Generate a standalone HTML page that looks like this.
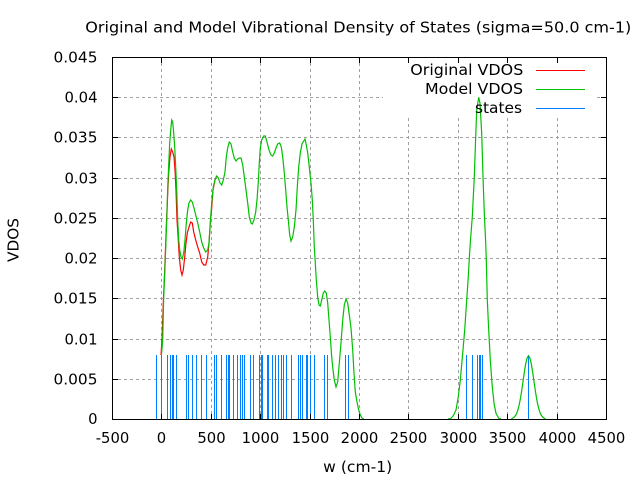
<!DOCTYPE html>
<html><head><meta charset="utf-8"><style>
html,body{margin:0;padding:0;background:#fff;}
svg{display:block;}
text{font-family:"DejaVu Sans","Liberation Sans",sans-serif;font-size:14.8px;fill:#000;}
</style></head><body>
<svg width="640" height="480" viewBox="0 0 640 480" xmlns="http://www.w3.org/2000/svg">
<rect x="0" y="0" width="640" height="480" fill="#fff"/>
<!-- grid -->
<g stroke="#a0a0a0" stroke-width="1" stroke-dasharray="3,3" fill="none">
<line x1="112" y1="97.5" x2="383" y2="97.5"/>
<line x1="597" y1="97.5" x2="606" y2="97.5"/>
<line x1="112" y1="137.5" x2="606" y2="137.5"/>
<line x1="112" y1="178.5" x2="606" y2="178.5"/>
<line x1="112" y1="218.5" x2="606" y2="218.5"/>
<line x1="112" y1="258.5" x2="606" y2="258.5"/>
<line x1="112" y1="298.5" x2="606" y2="298.5"/>
<line x1="112" y1="339.5" x2="606" y2="339.5"/>
<line x1="112" y1="379.5" x2="606" y2="379.5"/>
<line x1="161.5" y1="57" x2="161.5" y2="419"/>
<line x1="211.5" y1="57" x2="211.5" y2="419"/>
<line x1="260.5" y1="57" x2="260.5" y2="419"/>
<line x1="310.5" y1="57" x2="310.5" y2="419"/>
<line x1="359.5" y1="57" x2="359.5" y2="419"/>
<line x1="408.5" y1="118" x2="408.5" y2="419"/>
<line x1="458.5" y1="118" x2="458.5" y2="419"/>
<line x1="507.5" y1="118" x2="507.5" y2="419"/>
<line x1="557.5" y1="118" x2="557.5" y2="419"/>
</g>
<!-- states -->
<g fill="#0080ff">
<rect x="156" y="355" width="1" height="64"/><rect x="161" y="355" width="1" height="64"/><rect x="167" y="355" width="1" height="64"/><rect x="170" y="355" width="1" height="64"/><rect x="172" y="355" width="1" height="64"/><rect x="173" y="355" width="1" height="64"/><rect x="176" y="355" width="1" height="64"/><rect x="186" y="355" width="1" height="64"/><rect x="188" y="355" width="1" height="64"/><rect x="192" y="355" width="1" height="64"/><rect x="196" y="355" width="1" height="64"/><rect x="201" y="355" width="1" height="64"/><rect x="206" y="355" width="1" height="64"/><rect x="214" y="355" width="1" height="64"/><rect x="216" y="355" width="1" height="64"/><rect x="221" y="355" width="1" height="64"/><rect x="226" y="355" width="1" height="64"/><rect x="228" y="355" width="1" height="64"/><rect x="229" y="355" width="1" height="64"/><rect x="233" y="355" width="1" height="64"/><rect x="237" y="355" width="1" height="64"/><rect x="240" y="355" width="1" height="64"/><rect x="242" y="355" width="1" height="64"/><rect x="244" y="355" width="1" height="64"/><rect x="250" y="355" width="1" height="64"/><rect x="253" y="355" width="1" height="64"/><rect x="259" y="355" width="1" height="64"/><rect x="261" y="355" width="1" height="64"/><rect x="262" y="355" width="1" height="64"/><rect x="267" y="355" width="1" height="64"/><rect x="268" y="355" width="1" height="64"/><rect x="272" y="355" width="1" height="64"/><rect x="275" y="355" width="1" height="64"/><rect x="278" y="355" width="1" height="64"/><rect x="281" y="355" width="1" height="64"/><rect x="283" y="355" width="1" height="64"/><rect x="286" y="355" width="1" height="64"/><rect x="291" y="355" width="1" height="64"/><rect x="298" y="355" width="1" height="64"/><rect x="300" y="355" width="1" height="64"/><rect x="302" y="355" width="1" height="64"/><rect x="306" y="355" width="1" height="64"/><rect x="307" y="355" width="1" height="64"/><rect x="310" y="355" width="1" height="64"/><rect x="314" y="355" width="1" height="64"/><rect x="324" y="355" width="1" height="64"/><rect x="327" y="355" width="1" height="64"/><rect x="345" y="355" width="1" height="64"/><rect x="348" y="355" width="1" height="64"/>
<rect x="466" y="355" width="1" height="64"/><rect x="472" y="355" width="1" height="64"/><rect x="477" y="355" width="1" height="64"/><rect x="479" y="355" width="1" height="64"/><rect x="480" y="355" width="1" height="64"/><rect x="482" y="355" width="1" height="64"/><rect x="528" y="355" width="1" height="64"/>
</g>
<!-- legend box background -->
<rect x="383.5" y="58" width="213.5" height="60" fill="#fff"/>
<!-- red curve -->
<polyline fill="none" stroke="#ff0000" stroke-width="1.2" points="161,355 162,340 163.3,303 164.7,270 165.7,243 166.7,217 167.7,193 168.7,173 170,157 171.3,149 172.7,152 174,157 175,170 176,190 177,220 178.3,240 179.3,257 180.7,270 182,275 183.3,270 184.7,257 186,243 187.3,233 189,227 190.7,222 192.3,223 193.7,232 195.7,240 197.7,247 199.7,253 201.7,262 203.7,265 205.7,265 207.7,257 209,243 210.3,223 211.7,208 213,190 215,180 216.7,176"/>
<!-- green curves -->
<g fill="none" stroke="#00c000" stroke-width="1.2">
<polyline points="161.5,354 162.7,340 163.7,297 165,267 166,240 167,213 167.7,188 168.7,165 169.7,143 170.7,130 171.7,120 172.7,122 173.7,133 174.7,147 175.7,167 176.7,190 177.7,220 178.7,240 179.7,250 181,257 182.3,259 183.7,253 185,240 186.3,223 187.7,210 189,203 190.7,200 192.3,202 193.7,207 195.7,215 197.7,223 199.7,232 201.7,242 203.7,248 205.7,252 207.7,250 209,243 210.3,223 211.7,203 213.3,187 215,180 216.7,176 218.3,178 220,183 221.7,185 223.3,180 225,172 226.3,157 227.7,148 229.3,142 231,144 232.7,152 234.3,158 236,161 237.7,159 239.3,158 241,158 242.7,165 244.3,177 246,190 247.7,203 249.3,217 251,223 252.3,224 254,220 255.7,212 257,200 258.3,182 259.3,163 260.3,148 261.7,140 263.7,136 265.3,136 267,142 269,150 271,155 272.7,156 274.3,153 276,148 277.7,144 279.7,143 281.3,147 282.7,157 284.3,173 285.7,190 287,207 288.3,220 289.7,235 291,241 292.7,237 294.3,227 296,210 297.3,187 298.7,167 300.3,153 302,144 303.7,141 305,139 306.3,145 307.7,153 309.3,167 311,183 312.3,200 313.3,220 314.3,247 315.3,263 316.3,280 317.7,297 319,305 320.3,306 321.7,300 323.3,293 324.7,291 326.3,293 327.7,303 329,320 330.3,337 331.7,357 333,370 334.3,380 336,387 337.7,382 339.3,363 341,343 342.7,320 344.3,305 346,299 347.7,303 349.3,315 351,328 352.7,350 354,373 355.3,392 357,402 358.7,410 360.3,415 362,418 363.7,419"/>
<polyline points="448,419 450.7,418.5 453.3,415.7 456,410 458.3,396.7 460.3,380 462.7,353.3 464.7,330 466.7,300 468.3,276.7 469.5,255 470.5,240 472.3,216.7 474.3,176.7 475.7,136.7 476.7,110 478.7,97.3 480,103.3 481.7,133.3 483,176.7 484.3,213.3 485.7,243 486.3,260 487.3,300 488.7,330 490.3,360 492,383.3 494,403.3 496,413.3 498.7,418.3 501,419"/>
<polyline points="511.5,419 512.5,418.2 513.5,417.7 514.5,416.8 515.5,415.5 516.5,413.7 517.5,411.1 518.5,407.7 519.5,403.3 520.5,398 521.5,391.8 522.5,385 523.5,378 524.5,371.1 525.5,365 526.5,360.2 527.5,357.1 528.5,356 529.5,357.1 530.5,360.2 531.5,365 532.5,371.1 533.5,378 534.5,385 535.5,391.8 536.5,398 537.5,403.3 538.5,407.7 539.5,411.1 540.5,413.7 541.5,415.5 542.5,416.8 543.5,417.7 544.5,418.2 545.5,419"/>
</g>
<!-- border -->
<rect x="112.5" y="57.5" width="494" height="362" fill="none" stroke="#000" stroke-width="1"/>
<!-- ticks -->
<g stroke="#000" stroke-width="1">
<line x1="112" y1="97.5" x2="118" y2="97.5"/><line x1="112" y1="137.5" x2="118" y2="137.5"/><line x1="112" y1="178.5" x2="118" y2="178.5"/><line x1="112" y1="218.5" x2="118" y2="218.5"/><line x1="112" y1="258.5" x2="118" y2="258.5"/><line x1="112" y1="298.5" x2="118" y2="298.5"/><line x1="112" y1="339.5" x2="118" y2="339.5"/><line x1="112" y1="379.5" x2="118" y2="379.5"/>
<line x1="601" y1="97.5" x2="607" y2="97.5"/><line x1="601" y1="137.5" x2="607" y2="137.5"/><line x1="601" y1="178.5" x2="607" y2="178.5"/><line x1="601" y1="218.5" x2="607" y2="218.5"/><line x1="601" y1="258.5" x2="607" y2="258.5"/><line x1="601" y1="298.5" x2="607" y2="298.5"/><line x1="601" y1="339.5" x2="607" y2="339.5"/><line x1="601" y1="379.5" x2="607" y2="379.5"/>
<line x1="161.5" y1="57" x2="161.5" y2="63"/><line x1="211.5" y1="57" x2="211.5" y2="63"/><line x1="260.5" y1="57" x2="260.5" y2="63"/><line x1="310.5" y1="57" x2="310.5" y2="63"/><line x1="359.5" y1="57" x2="359.5" y2="63"/><line x1="408.5" y1="57" x2="408.5" y2="63"/><line x1="458.5" y1="57" x2="458.5" y2="63"/><line x1="507.5" y1="57" x2="507.5" y2="63"/><line x1="557.5" y1="57" x2="557.5" y2="63"/>
<line x1="161.5" y1="414" x2="161.5" y2="420"/><line x1="211.5" y1="414" x2="211.5" y2="420"/><line x1="260.5" y1="414" x2="260.5" y2="420"/><line x1="310.5" y1="414" x2="310.5" y2="420"/><line x1="359.5" y1="414" x2="359.5" y2="420"/><line x1="408.5" y1="414" x2="408.5" y2="420"/><line x1="458.5" y1="414" x2="458.5" y2="420"/><line x1="507.5" y1="414" x2="507.5" y2="420"/><line x1="557.5" y1="414" x2="557.5" y2="420"/>
</g>
<!-- y tick labels -->
<g text-anchor="end">
<text x="97.5" y="424">0</text>
<text x="97.5" y="384.5" textLength="44" lengthAdjust="spacingAndGlyphs">0.005</text>
<text x="97.5" y="344.5" textLength="33" lengthAdjust="spacingAndGlyphs">0.01</text>
<text x="97.5" y="303.5" textLength="44" lengthAdjust="spacingAndGlyphs">0.015</text>
<text x="97.5" y="263.5" textLength="33" lengthAdjust="spacingAndGlyphs">0.02</text>
<text x="97.5" y="223.5" textLength="44" lengthAdjust="spacingAndGlyphs">0.025</text>
<text x="97.5" y="183.5" textLength="33" lengthAdjust="spacingAndGlyphs">0.03</text>
<text x="97.5" y="142.5" textLength="44" lengthAdjust="spacingAndGlyphs">0.035</text>
<text x="97.5" y="102.5" textLength="33" lengthAdjust="spacingAndGlyphs">0.04</text>
<text x="97.5" y="62.5" textLength="44" lengthAdjust="spacingAndGlyphs">0.045</text>
</g>
<!-- x tick labels -->
<g text-anchor="middle">
<text x="112.5" y="443">-500</text>
<text x="161.5" y="443">0</text>
<text x="211.5" y="443">500</text>
<text x="260.5" y="443">1000</text>
<text x="310.5" y="443">1500</text>
<text x="359.5" y="443">2000</text>
<text x="408.5" y="443">2500</text>
<text x="458.5" y="443">3000</text>
<text x="507.5" y="443">3500</text>
<text x="557.5" y="443">4000</text>
<text x="606.5" y="443">4500</text>
</g>
<!-- title & axis labels -->
<text x="358.3" y="32.7" text-anchor="middle" textLength="546" lengthAdjust="spacingAndGlyphs">Original and Model Vibrational Density of States (sigma=50.0 cm-1)</text>
<text x="357.7" y="472" text-anchor="middle" textLength="69" lengthAdjust="spacingAndGlyphs">w (cm-1)</text>
<text transform="translate(18.3,240) rotate(-90)" text-anchor="middle" textLength="44" lengthAdjust="spacingAndGlyphs">VDOS</text>
<!-- legend -->
<g text-anchor="end">
<text x="523.3" y="75" textLength="113" lengthAdjust="spacingAndGlyphs">Original VDOS</text>
<text x="523" y="94" textLength="98" lengthAdjust="spacingAndGlyphs">Model VDOS</text>
<text x="522" y="113" textLength="47" lengthAdjust="spacingAndGlyphs">states</text>
</g>
<line x1="536" y1="70.5" x2="585" y2="70.5" stroke="#ff0000" stroke-width="1"/>
<line x1="536" y1="89.5" x2="585" y2="89.5" stroke="#00c000" stroke-width="1"/>
<line x1="536" y1="108.5" x2="585" y2="108.5" stroke="#0080ff" stroke-width="1"/>
</svg>
</body></html>
